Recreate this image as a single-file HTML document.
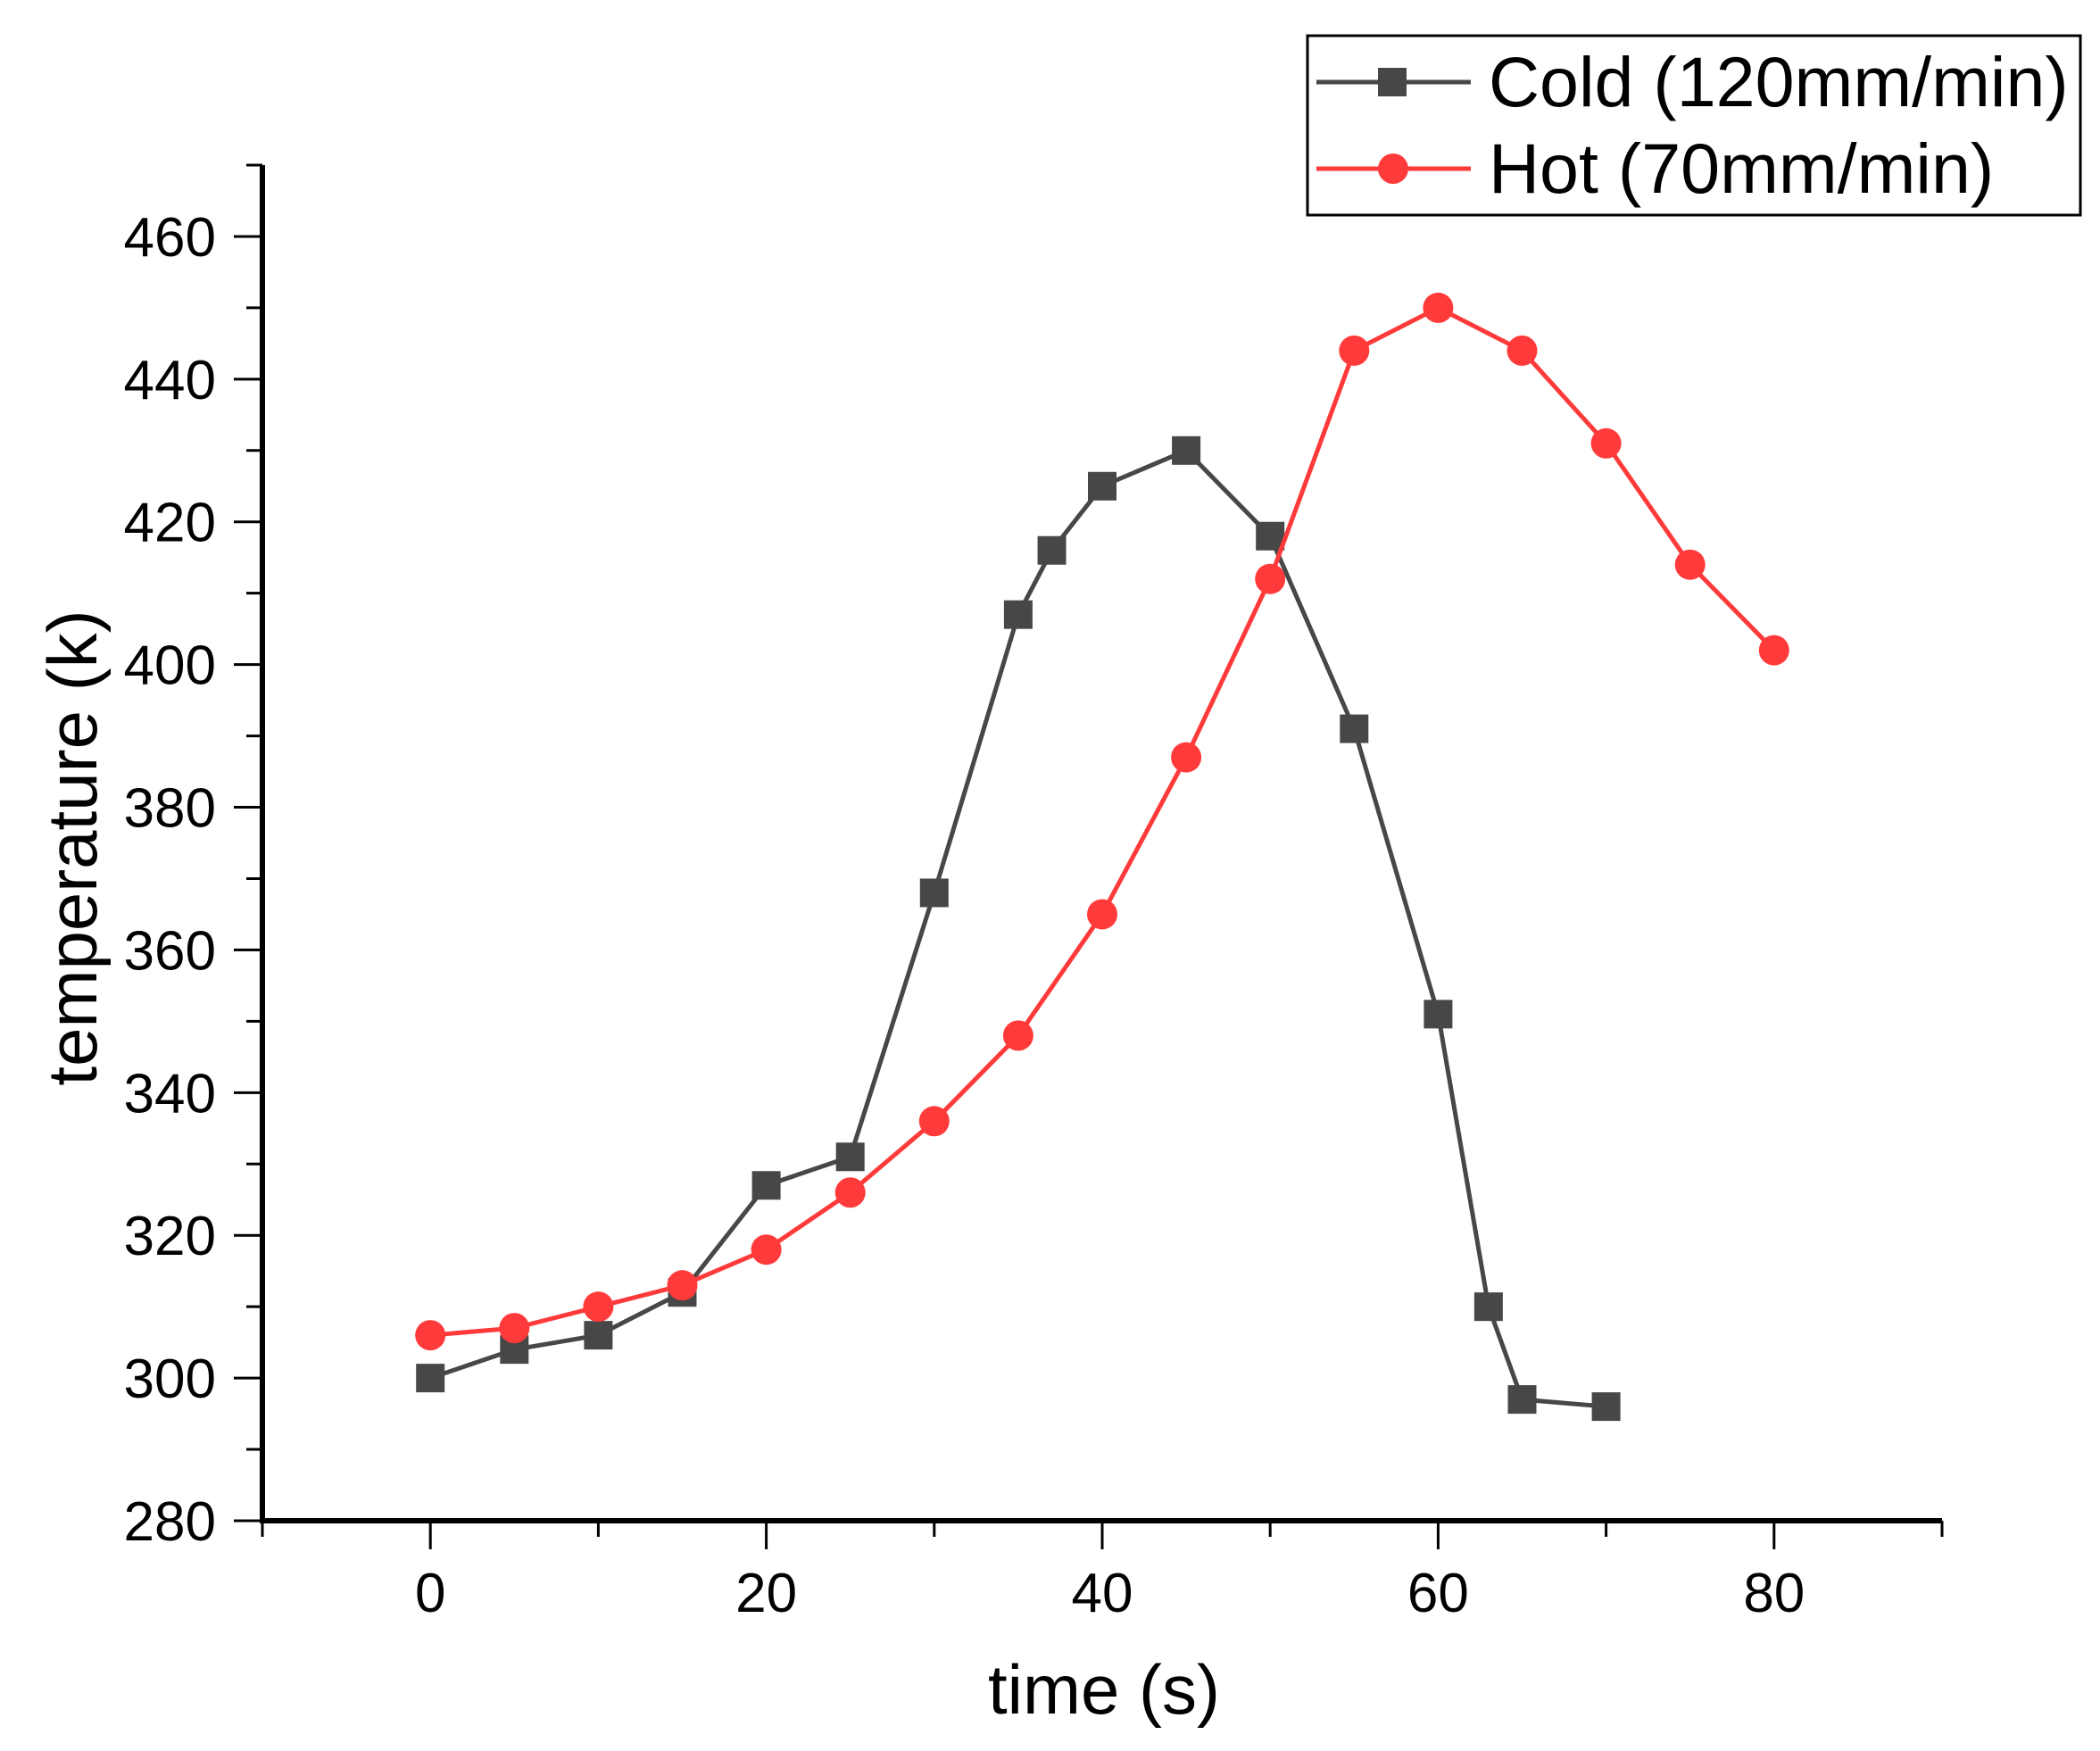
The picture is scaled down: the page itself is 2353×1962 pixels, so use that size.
<!DOCTYPE html>
<html><head><meta charset="utf-8"><style>html,body{margin:0;padding:0;background:#fff}svg{display:block}</style></head>
<body>
<svg id="chart" width="2353" height="1962" viewBox="0 0 2353 1962" xmlns="http://www.w3.org/2000/svg" font-family="'Liberation Sans', sans-serif">
<g id="axes"></g>
<g id="series"></g>
<text x="1237" y="1920" font-size="78" text-anchor="middle">time (s)</text>
<text transform="translate(108,950) rotate(-90)" font-size="78" text-anchor="middle">temperature (k)</text>
<g>
<rect x="1465" y="40" width="866" height="201" fill="#fff" stroke="#000" stroke-width="3"/>
<g>
<line x1="1475" y1="92" x2="1648" y2="92" stroke="#474747" stroke-width="5"/>
<rect x="1544" y="76" width="32" height="32" fill="#474747"/>
<text x="1668" y="119" font-size="79">Cold (120mm/min)</text></g>
<g>
<line x1="1475" y1="189" x2="1648" y2="189" stroke="#ff3a3a" stroke-width="5"/>
<circle cx="1561" cy="189" r="17" fill="#ff3a3a"/>
<text x="1668" y="216" font-size="79">Hot (70mm/min)</text></g>
</g>
</svg>
<script>
const coldX=[0,5,10,15,20,25,30,35,37,40,45,50,55,60,63,65,70];
const coldY=[300,304,306,312,327,331,368,407,416,425,430,418,391,351,310,297,296];
const hotX=[0,5,10,15,20,25,30,35,40,45,50,55,60,65,70,75,80];
const hotY=[306,307,310,313,318,326,336,348,365,387,412,444,450,444,431,414,402];
const xTicks=[0,20,40,60,80];
const yTicks=[280,300,320,340,360,380,400,420,440,460];
const NS="http://www.w3.org/2000/svg";
const L=294,R=2176,T=185,B=1704,xmin=-10,xmax=90,ymin=280,ymax=470;
const sx=v=>L+(v-xmin)/(xmax-xmin)*(R-L);
const sy=v=>B-(v-ymin)/(ymax-ymin)*(B-T);
function mk(tag,attrs,parent){const e=document.createElementNS(NS,tag);for(const k in attrs)e.setAttribute(k,attrs[k]);parent.appendChild(e);return e;}
const ax=document.getElementById('axes');
let e;
e=mk('line',{x1:L,y1:T,x2:L,y2:B+3,stroke:'#000','stroke-width':6},ax);


e=mk('line',{x1:L-3,y1:B,x2:R,y2:B,stroke:'#000','stroke-width':6},ax);


for(let v=280;v<=470;v+=10){const major=yTicks.includes(v);
 e=mk('line',{x1:L-(major?32:18),y1:sy(v),x2:L,y2:sy(v),stroke:'#000','stroke-width':3},ax);
 
 }
yTicks.forEach(v=>{e=mk('text',{x:242,y:sy(v)+22,'font-size':62,'text-anchor':'end'},ax);e.textContent=v;
 
 });
for(let v=-10;v<=90;v+=10){const major=xTicks.includes(v);
 e=mk('line',{x1:sx(v),y1:B,x2:sx(v),y2:B+(major?32:18),stroke:'#000','stroke-width':3},ax);
 
 }
xTicks.forEach(v=>{e=mk('text',{x:sx(v),y:1806,'font-size':62,'text-anchor':'middle'},ax);e.textContent=v;
 
 });
const sg=document.getElementById('series');
function series(xs,ys,col,shape,name){
 const g=mk('g',{},sg);
 
 
 e=mk('polyline',{points:xs.map((x,i)=>sx(x)+','+sy(ys[i])).join(' '),fill:'none',stroke:col,'stroke-width':5},g);
 
 
 xs.forEach((x,i)=>{
  if(shape==='sq') e=mk('rect',{x:sx(x)-16,y:sy(ys[i])-16,width:32,height:32,fill:col},g);
  else e=mk('circle',{cx:sx(x),cy:sy(ys[i]),r:17,fill:col},g);
  
  
 });
}
series(coldX,coldY,'#474747','sq','cold');
series(hotX,hotY,'#ff3a3a','ci','hot');
</script>
</body></html>
